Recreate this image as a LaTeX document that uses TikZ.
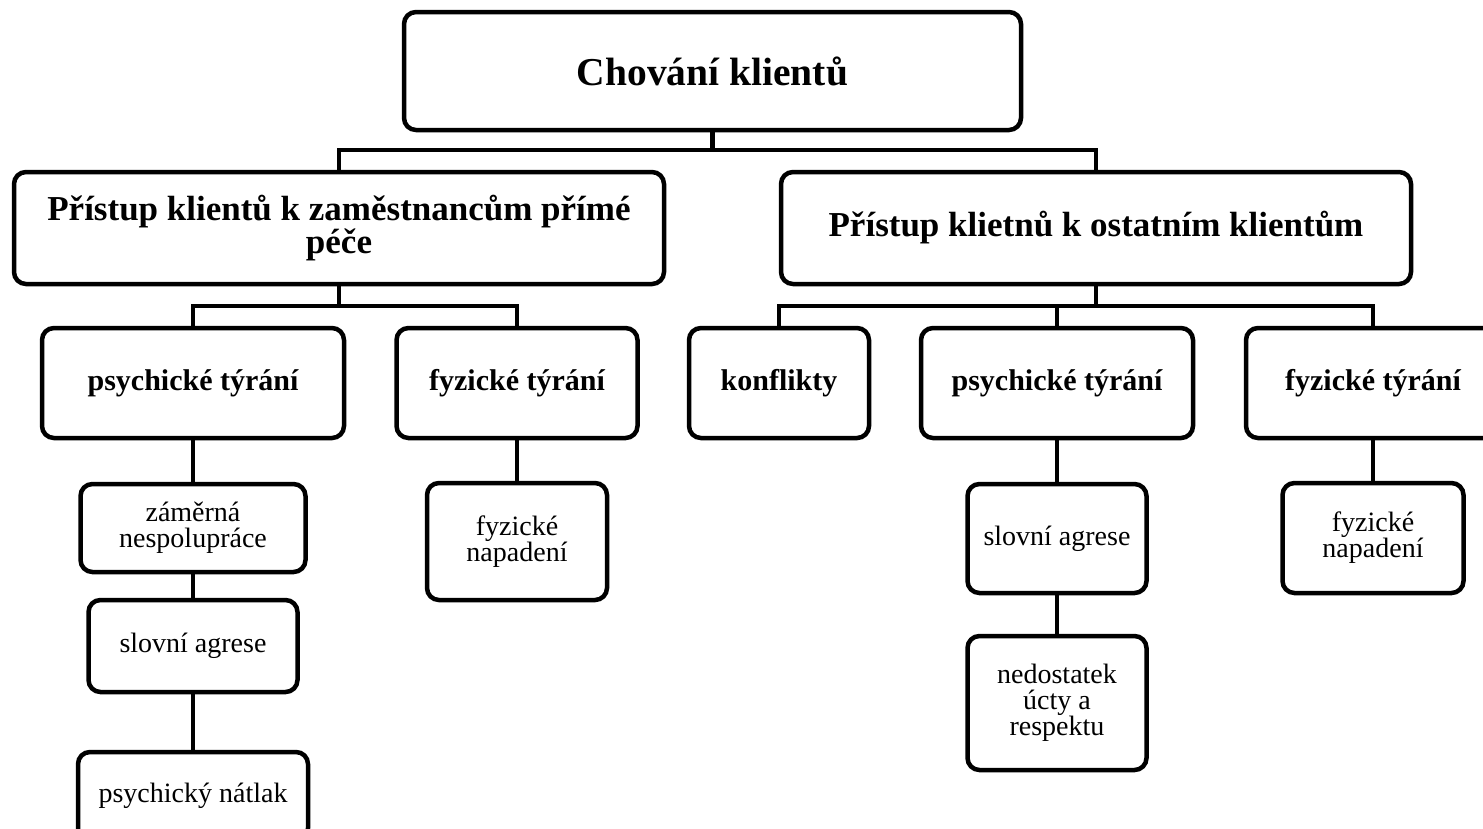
\documentclass[tikz,border=0pt]{standalone}
\usepackage{fontspec}
\setmainfont{Liberation Serif}
\begin{document}
\begin{tikzpicture}[x=1pt,y=-1pt,
  box/.style={draw=black, fill=white, line width=4.5pt, rounded corners=12pt,
    align=center, inner sep=0pt, outer sep=0pt},
  lvlone/.style={box, font=\bfseries\fontsize{39.5}{40}\selectfont},
  lvltwo/.style={box, font=\bfseries\fontsize{35}{32}\selectfont},
  lvlthree/.style={box, font=\bfseries\fontsize{30}{30}\selectfont},
  leaf/.style={box, font=\fontsize{28}{26}\selectfont},
  link/.style={draw=black, line width=4.5pt}]
\useasboundingbox (0,0) rectangle (1483,828);
\fill[white] (0,0) rectangle (1483,828);
\clip (0,0) rectangle (1483,828);

% root
\node[lvlone, minimum width=617pt, minimum height=118pt] (top) at (712.5,71) {Chování klientů};

% second level
\node[lvltwo, minimum width=650pt, minimum height=112pt] (stafL) at (339,228)
  {Přístup klientů k zaměstnancům přímé\\péče};
\node[lvltwo, minimum width=630pt, minimum height=112pt] (clientR) at (1096,228)
  {Přístup klietnů k ostatním klientům};

% third level
\node[lvlthree, minimum width=302pt, minimum height=110pt] (psyL) at (193,383) {psychické týrání};
\node[lvlthree, minimum width=241pt, minimum height=110pt] (fyzL) at (517,383) {fyzické týrání};
\node[lvlthree, minimum width=180pt, minimum height=110pt] (konf) at (779,383) {konflikty};
\node[lvlthree, minimum width=272pt, minimum height=110pt] (psyR) at (1057,383) {psychické týrání};
\node[lvlthree, minimum width=254pt, minimum height=110pt] (fyzR) at (1373,383) {fyzické týrání};

% leaves
\node[leaf, minimum width=225pt, minimum height=88pt] (zamer) at (193,528) {záměrná\\nespolupráce};
\node[leaf, minimum width=209pt, minimum height=92pt] (slovL) at (193,646) {slovní agrese};
\node[leaf, minimum width=230pt, minimum height=88pt] (natlak) at (193,796) {psychický nátlak};
\node[leaf, minimum width=180pt, minimum height=117pt] (napL) at (517,541.5) {fyzické\\napadení};
\node[leaf, minimum width=179pt, minimum height=109pt] (slovR) at (1057,538.5) {slovní agrese};
\node[leaf, minimum width=179pt, minimum height=134pt] (ucta) at (1057,703) {nedostatek\\úcty a\\respektu};
\node[leaf, minimum width=181pt, minimum height=110pt] (napR) at (1373,538) {fyzické\\napadení};

% tree connectors
\draw[link] (top.south) -- ++(0,20) coordinate (j1);
\draw[link] (stafL.north) |- (j1) -| (clientR.north);

\draw[link] (stafL.south) -- ++(0,22) coordinate (j2);
\draw[link] (psyL.north) |- (j2) -| (fyzL.north);

\draw[link] (clientR.south) -- ++(0,22) coordinate (j3);
\draw[link] (konf.north) |- (j3) -| (fyzR.north);
\draw[link] (psyR.north) -- (psyR.north |- j3);

\draw[link] (psyL.south) -- (zamer.north);
\draw[link] (zamer.south) -- (slovL.north);
\draw[link] (slovL.south) -- (natlak.north);
\draw[link] (fyzL.south) -- (napL.north);
\draw[link] (psyR.south) -- (slovR.north);
\draw[link] (slovR.south) -- (ucta.north);
\draw[link] (fyzR.south) -- (napR.north);
\end{tikzpicture}
\end{document}
